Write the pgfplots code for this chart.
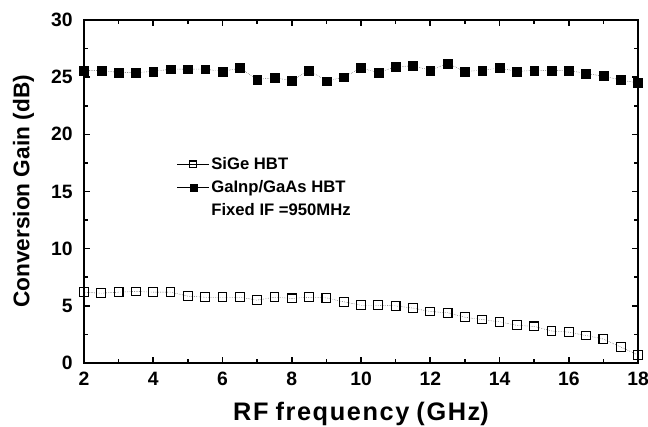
\documentclass[border=0pt]{standalone}
\usepackage{fontspec}
\setmainfont{Liberation Sans}
\usepackage{pgfplots}
\pgfplotsset{compat=1.18}
\begin{document}
\begin{tikzpicture}
\useasboundingbox (-63pt,-48pt) rectangle (423pt,272.25pt);
\begin{axis}[
  scale only axis, width=415.5pt, height=257.25pt,
  xmin=2, xmax=18, ymin=0, ymax=30,
  xtick={2,4,...,18}, minor xtick={3,5,...,17},
  ytick={0,5,...,30}, minor ytick={2.5,7.5,...,27.5},
  tick align=inside, major tick length=4.5pt, minor tick length=3pt,
  axis line style={line width=1.4pt}, every tick/.style={line width=1.2pt, black},
  /pgf/number format/assume math mode=true,
  ticklabel style={font=\fontsize{14.5pt}{15pt}\selectfont\bfseries},
  xticklabel style={yshift=-3pt},
  yticklabel style={xshift=-5pt},
  xlabel={\fontsize{19pt}{21pt}\selectfont\bfseries R\kern1.2pt F f\kern1.2pt r\kern1.2pt e\kern1.2pt q\kern1.2pt u\kern1.2pt e\kern1.2pt n\kern1.2pt c\kern1.2pt y (\kern1.2pt G\kern1.2pt H\kern1.2pt z)},
  ylabel={\fontsize{17pt}{18pt}\selectfont\bfseries Conversion Gain (dB)},
  xlabel style={yshift=-6pt},
  ylabel style={yshift=6pt},
  clip=false,
  legend style={draw=none, fill=none, at={(axis cs:4.55,18.35)}, anchor=north west,
    font=\fontsize{12.5pt}{14pt}\selectfont\bfseries, row sep=4.5pt,
    nodes={inner sep=1pt}},
  legend cell align=left,
  legend image code/.code={\draw[#1,solid,line width=1.1pt,mark=none] (0pt,0pt) -- (24pt,0pt); \draw[#1,solid,mark size=2.6pt] plot coordinates {(12pt,0pt)};},
]
\addplot[black, line width=0.3pt, densely dotted, mark=square, mark size=3.3pt, mark options={solid, line width=0.8pt, fill=white}] coordinates {
(2,6.2)(2.5,6.1)(3,6.2)(3.5,6.25)(4,6.2)(4.5,6.2)(5,5.85)(5.5,5.75)(6,5.75)(6.5,5.75)
(7,5.5)(7.5,5.75)(8,5.65)(8.5,5.75)(9,5.7)(9.5,5.35)(10,5.05)(10.5,5.05)(11,5.0)(11.5,4.8)
(12,4.5)(12.5,4.4)(13,4.0)(13.5,3.8)(14,3.6)(14.5,3.3)(15,3.2)(15.5,2.8)(16,2.7)(16.5,2.4)
(17,2.1)(17.5,1.4)(18,0.7)};
\addlegendentry{SiGe HBT}
\addplot[black, line width=0.3pt, densely dotted, mark=square*, mark size=3.3pt, mark options={solid, fill=black}] coordinates {
(2,25.6)(2.5,25.6)(3,25.4)(3.5,25.4)(4,25.5)(4.5,25.7)(5,25.7)(5.5,25.7)(6,25.5)(6.5,25.8)
(7,24.8)(7.5,24.95)(8,24.7)(8.5,25.6)(9,24.65)(9.5,25.0)(10,25.8)(10.5,25.4)(11,25.9)(11.5,26.0)
(12,25.6)(12.5,26.2)(13,25.5)(13.5,25.6)(14,25.8)(14.5,25.5)(15,25.6)(15.5,25.55)(16,25.6)(16.5,25.3)
(17,25.1)(17.5,24.75)(18,24.5)};
\addlegendentry{GaInp/GaAs HBT}
\addlegendimage{empty legend}
\addlegendentry{Fixed IF =950MHz}
\end{axis}
\end{tikzpicture}
\end{document}
